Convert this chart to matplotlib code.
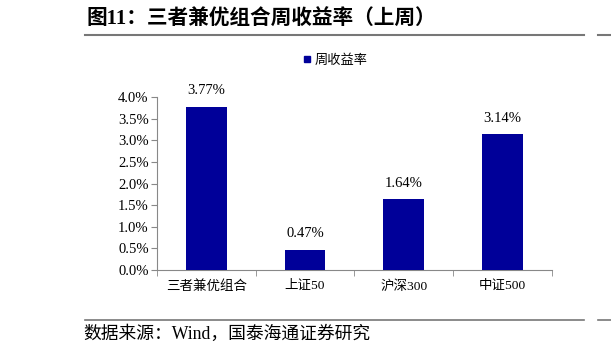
import matplotlib
matplotlib.use("Agg")
import matplotlib.pyplot as plt
from matplotlib.lines import Line2D
from matplotlib.ticker import FuncFormatter, FixedLocator

categories = ["三者兼优组合", "上证50", "沪深300", "中证500"]
values = [3.77, 0.47, 1.64, 3.14]
labels = ["3.77%", "0.47%", "1.64%", "3.14%"]
yticks = [0.0, 0.5, 1.0, 1.5, 2.0, 2.5, 3.0, 3.5, 4.0]

CJK = ["Noto Sans CJK SC", "DejaVu Sans"]
SERIF = ["Liberation Serif", "Noto Sans CJK SC"]
bar_color = "#000099"

fig = plt.figure(figsize=(6.11, 3.54), dpi=100)
ax = fig.add_axes([0.257, 0.237, 0.646, 0.489])

x = list(range(len(categories)))
ax.bar(x, values, width=0.41, color=bar_color, zorder=3)
for xi, v, lab in zip(x, values, labels):
    ax.text(xi, v + 0.22, lab, ha="center", va="bottom", fontsize=10.5, family=SERIF)

ax.set_xlim(-0.5, len(categories) - 0.5)
ax.set_ylim(0, 4.0)
ax.set_yticks(yticks)
ax.yaxis.set_major_formatter(FuncFormatter(lambda v, p: f"{v:.1f}%"))
for t in ax.get_yticklabels():
    t.set_family(SERIF)
    t.set_fontsize(10.5)

ax.set_xticks(x)
ax.set_xticklabels(categories, family=SERIF, fontsize=9.7)
ax.tick_params(axis="x", length=0, pad=7)
ax.xaxis.set_minor_locator(FixedLocator([i - 0.5 for i in range(len(categories) + 1)]))
ax.tick_params(axis="x", which="minor", length=4, color="#888888", direction="out")
ax.tick_params(axis="y", length=4, color="#888888", direction="out", pad=2)

for s in ["top", "right"]:
    ax.spines[s].set_visible(False)
for s in ["left", "bottom"]:
    ax.spines[s].set_color("#888888")
    ax.spines[s].set_linewidth(0.8)

# legend
fig.legend(handles=[Line2D([], [], marker="s", color=bar_color, linestyle="none", markersize=5)],
           labels=["周收益率"], loc="center left", bbox_to_anchor=(300 / 611, 1 - 60 / 354),
           frameon=False, prop={"family": CJK, "size": 9.5}, handletextpad=0.1,
           handlelength=1.0, borderaxespad=0, borderpad=0)

# title and lines
fig.text(0.141, 0.943, "图11：三者兼优组合周收益率（上周）", fontsize=14.9, fontweight="bold",
         family=SERIF, ha="left", va="center")
fig.add_artist(Line2D([0.139, 0.956], [0.902, 0.902], color="#777777", lw=1.5))
fig.add_artist(Line2D([0.978, 1.0], [0.902, 0.902], color="#777777", lw=1.5))
fig.add_artist(Line2D([0.139, 0.956], [0.096, 0.096], color="#777777", lw=1.2))
fig.add_artist(Line2D([0.978, 1.0], [0.096, 0.096], color="#777777", lw=1.2))
fig.text(0.137, 0.056, "数据来源：Wind，国泰海通证券研究", fontsize=12.8,
         family=SERIF, ha="left", va="center")

fig.savefig("out.png", dpi=100)
